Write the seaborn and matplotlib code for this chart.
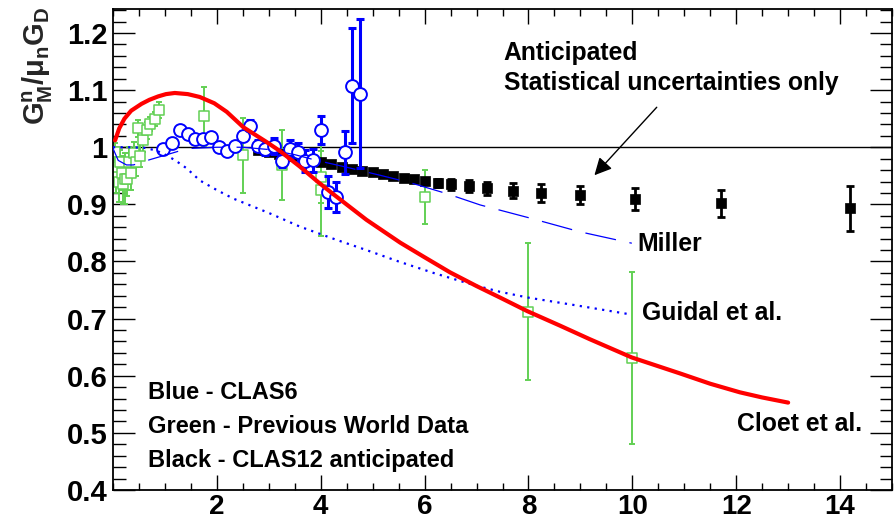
import numpy as np
import pandas as pd
import matplotlib
matplotlib.use("Agg")
import matplotlib.pyplot as plt
import seaborn as sns
from matplotlib.ticker import MultipleLocator, FixedLocator, FixedFormatter

# ---------------- data ----------------
# CLAS12 anticipated (black)
clas12_q2 = [2.8, 3.0, 3.2, 3.4, 3.6, 3.8, 4.0, 4.2, 4.4, 4.6, 4.8, 5.0, 5.2, 5.4,
             5.6, 5.8, 6.0, 6.25, 6.5, 6.85, 7.2, 7.7, 8.25, 9.0, 10.05, 11.7, 14.2]
clas12_val = [0.996, 0.992, 0.989, 0.985, 0.981, 0.977, 0.974, 0.970, 0.966, 0.962,
              0.959, 0.956, 0.953, 0.950, 0.946, 0.944, 0.941, 0.938, 0.935, 0.932,
              0.928, 0.924, 0.920, 0.916, 0.909, 0.902, 0.893]
clas12_err = [0.003, 0.003, 0.003, 0.003, 0.003, 0.003, 0.003, 0.003, 0.004, 0.004,
              0.004, 0.004, 0.005, 0.005, 0.005, 0.005, 0.006, 0.007, 0.009, 0.010,
              0.012, 0.013, 0.015, 0.016, 0.019, 0.024, 0.039]

# CLAS6 (blue)
clas6_q2 = [0.97, 1.13, 1.29, 1.44, 1.58, 1.74, 1.89, 2.04, 2.19, 2.34, 2.50, 2.64, 2.80,
            2.93, 3.10, 3.25, 3.40, 3.56, 3.70, 3.86, 4.00, 4.14, 4.29, 4.47, 4.61, 4.76]
clas6_val = [0.997, 1.008, 1.031, 1.023, 1.014, 1.014, 1.018, 1.000, 0.993, 1.003, 1.020,
             1.037, 1.003, 0.997, 1.003, 0.976, 0.997, 0.991, 0.976, 0.977, 1.030, 0.922,
             0.913, 0.991, 1.108, 1.094]
clas6_err = [0.005, 0.005, 0.005, 0.005, 0.005, 0.005, 0.005, 0.006, 0.006, 0.007, 0.008,
             0.010, 0.010, 0.011, 0.014, 0.010, 0.016, 0.016, 0.020, 0.020, 0.025, 0.028,
             0.027, 0.038, 0.100, 0.131]

# Previous world data (green)
world_q2 = [0.04, 0.06, 0.09, 0.11, 0.14, 0.17, 0.20, 0.23, 0.27, 0.31, 0.35, 0.40, 0.45,
            0.48, 0.52, 0.58, 0.65, 0.71, 0.80, 0.88, 1.75, 2.50, 3.25, 4.00, 4.00, 6.00,
            8.00, 10.00]
world_val = [0.992, 0.950, 0.965, 0.940, 0.975, 0.955, 0.935, 0.945, 0.945, 0.975, 0.955,
             0.990, 0.975, 1.033, 0.985, 1.012, 1.030, 1.041, 1.050, 1.065, 1.054, 0.986,
             0.969, 0.948, 0.925, 0.913, 0.712, 0.631]
world_err = [0.015, 0.030, 0.025, 0.035, 0.020, 0.030, 0.035, 0.045, 0.030, 0.025, 0.030,
             0.020, 0.025, 0.015, 0.020, 0.020, 0.015, 0.012, 0.012, 0.014, 0.052, 0.066,
             0.061, 0.045, 0.080, 0.047, 0.120, 0.151]

# Theory curves
cloet_q2 = [0.04, 0.12, 0.22, 0.35, 0.55, 0.70, 0.87, 1.02, 1.19, 1.44, 1.67, 1.95, 2.19,
            2.51, 2.96, 3.22, 3.60, 3.95, 4.24, 4.88, 5.53, 5.97, 6.49, 7.0, 7.45, 7.98,
            8.6, 9.18, 9.99, 10.92, 11.5, 12.07, 12.5, 13.0]
cloet_val = [1.012, 1.033, 1.050, 1.064, 1.076, 1.083, 1.089, 1.093, 1.095, 1.093, 1.088,
             1.077, 1.062, 1.035, 1.009, 0.993, 0.966, 0.939, 0.918, 0.873, 0.833, 0.809,
             0.781, 0.757, 0.737, 0.713, 0.688, 0.664, 0.632, 0.604, 0.586, 0.571, 0.562,
             0.553]

miller_q2 = [0.0, 0.1, 0.26, 0.39, 0.51, 0.7, 1.0, 1.26, 1.5, 2.0, 2.5, 3.0, 3.5, 3.92,
             4.5, 5.14, 5.72, 6.42, 7.07, 8.03, 8.99, 9.99]
miller_val = [0.998, 0.977, 0.969, 0.969, 0.972, 0.978, 0.986, 0.993, 0.998, 1.0, 1.0,
              0.996, 0.987, 0.977, 0.965, 0.951, 0.938, 0.919, 0.899, 0.876, 0.852, 0.832]

guidal_q2 = [0.0, 0.3, 0.6, 0.8, 0.97, 1.2, 1.42, 1.67, 2.0, 2.32, 3.0, 3.6, 4.3, 4.88,
             5.5, 6.17, 6.94, 7.45, 7.98, 9.0, 9.99]
guidal_val = [1.0, 1.0, 0.999, 0.995, 0.989, 0.977, 0.963, 0.942, 0.925, 0.910, 0.885,
              0.861, 0.838, 0.820, 0.800, 0.780, 0.759, 0.747, 0.737, 0.722, 0.707]

y_ticks = [0.4, 0.5, 0.6, 0.7, 0.8, 0.9, 1.0, 1.1, 1.2]
y_tick_labels = ["0.4", "0.5", "0.6", "0.7", "0.8", "0.9", "1", "1.1", "1.2"]
x_ticks = [2, 4, 6, 8, 10, 12, 14]
x_tick_labels = ["2", "4", "6", "8", "10", "12", "14"]

# ---------------- style ----------------
sns.set_theme(style="ticks")
FONT = "Liberation Sans"
plt.rcParams["font.family"] = [FONT, "DejaVu Sans"]
plt.rcParams["font.weight"] = "bold"
plt.rcParams["mathtext.fontset"] = "custom"
plt.rcParams["mathtext.bf"] = FONT + ":bold"
plt.rcParams["mathtext.rm"] = FONT + ":bold"
plt.rcParams["mathtext.it"] = FONT + ":bold"
plt.rcParams["mathtext.sf"] = FONT + ":bold"

GREEN = "#62d054"
BLUE = "#0000ff"
RED = "#ff0000"

fig = plt.figure(figsize=(8.96, 5.2), dpi=100)
ax = fig.add_axes([113 / 896, 1 - 490 / 520, (892 - 113) / 896, (490 - 9) / 520])

ax.axhline(1.0, color="black", lw=1.0, zorder=1)

# green world data
ax.errorbar(world_q2, world_val, yerr=world_err, fmt="none", ecolor=GREEN,
            elinewidth=1.4, capsize=2.2, capthick=1.4, zorder=2)
sns.scatterplot(x=world_q2, y=world_val, ax=ax, marker="s", s=60, facecolor="white",
                edgecolor=GREEN, linewidth=1.1, zorder=2.5)

# black anticipated
ax.errorbar(clas12_q2, clas12_val, yerr=clas12_err, fmt="none", ecolor="black",
            elinewidth=2.0, capsize=3.0, capthick=2.0, zorder=3)
sns.scatterplot(x=clas12_q2, y=clas12_val, ax=ax, marker="s", s=55, color="black",
                edgecolor="black", linewidth=0.5, zorder=3.5)

# blue CLAS6
ax.errorbar(clas6_q2, clas6_val, yerr=clas6_err, fmt="none", ecolor=BLUE,
            elinewidth=2.2, capsize=3.0, capthick=2.2, zorder=4)
sns.scatterplot(x=clas6_q2, y=clas6_val, ax=ax, marker="o", s=85, facecolor="white",
                edgecolor=BLUE, linewidth=1.4, zorder=4.5)

# theory curves
sns.lineplot(x=miller_q2, y=miller_val, ax=ax, color=BLUE, lw=0.9,
             linestyle=(0, (25, 11)), sort=False, estimator=None, zorder=5)
sns.lineplot(x=guidal_q2, y=guidal_val, ax=ax, color=BLUE, lw=1.6,
             linestyle=(0, (1, 2.4)), sort=False, estimator=None, zorder=5)
sns.lineplot(x=cloet_q2, y=cloet_val, ax=ax, color=RED, lw=3.0,
             sort=False, estimator=None, zorder=6)

# axes
ax.set_xlim(0, 15)
ax.set_ylim(0.4, 1.242)
ax.xaxis.set_major_locator(FixedLocator(x_ticks))
ax.xaxis.set_major_formatter(FixedFormatter(x_tick_labels))
ax.xaxis.set_minor_locator(MultipleLocator(0.5))
ax.yaxis.set_major_locator(FixedLocator(y_ticks))
ax.yaxis.set_major_formatter(FixedFormatter(y_tick_labels))
ax.yaxis.set_minor_locator(MultipleLocator(0.02))
for s in ax.spines.values():
    s.set_linewidth(1.3)
    s.set_color("black")
ax.tick_params(axis="both", which="both", direction="in", top=True, right=True,
               colors="black", width=1.0)
ax.tick_params(axis="x", which="major", length=11, labelsize=20, pad=3)
ax.tick_params(axis="x", which="minor", length=5)
ax.tick_params(axis="y", which="major", length=16, labelsize=21, pad=4)
ax.tick_params(axis="y", which="minor", length=9)
for lab in ax.get_xticklabels() + ax.get_yticklabels():
    lab.set_fontweight("bold")
ax.set_xlabel("")
ax.set_ylabel("")

fig.text(38 / 896, 1 - 6 / 520, r"$\mathbf{G^{n}_{M}/}\mu_{\mathbf{n}}\mathbf{G_{D}}$",
         rotation=90, ha="center", va="top", fontsize=21)

txt = dict(fontsize=17.8, fontweight="bold", color="black", va="center", ha="left")
leg = dict(fontsize=17, fontweight="bold", color="black", va="center", ha="left")
ax.text(7.52, 1.165, "Anticipated", **txt)
ax.text(7.52, 1.112, "Statistical uncertainties only", **txt)
ax.text(10.09, 0.831, "Miller", **txt)
ax.text(10.19, 0.710, "Guidal et al.", **txt)
ax.text(12.01, 0.515, "Cloet et al.", **txt)
ax.text(0.67, 0.571, "Blue - CLAS6", **leg)
ax.text(0.67, 0.511, "Green - Previous World Data", **leg)
ax.text(0.67, 0.452, "Black - CLAS12 anticipated", **leg)

ax.annotate("", xy=(9.27, 0.951), xytext=(10.47, 1.070),
            arrowprops=dict(arrowstyle="-|>", color="black", lw=1.0,
                            mutation_scale=26, shrinkA=0, shrinkB=0))

fig.savefig("out.png", dpi=100)
